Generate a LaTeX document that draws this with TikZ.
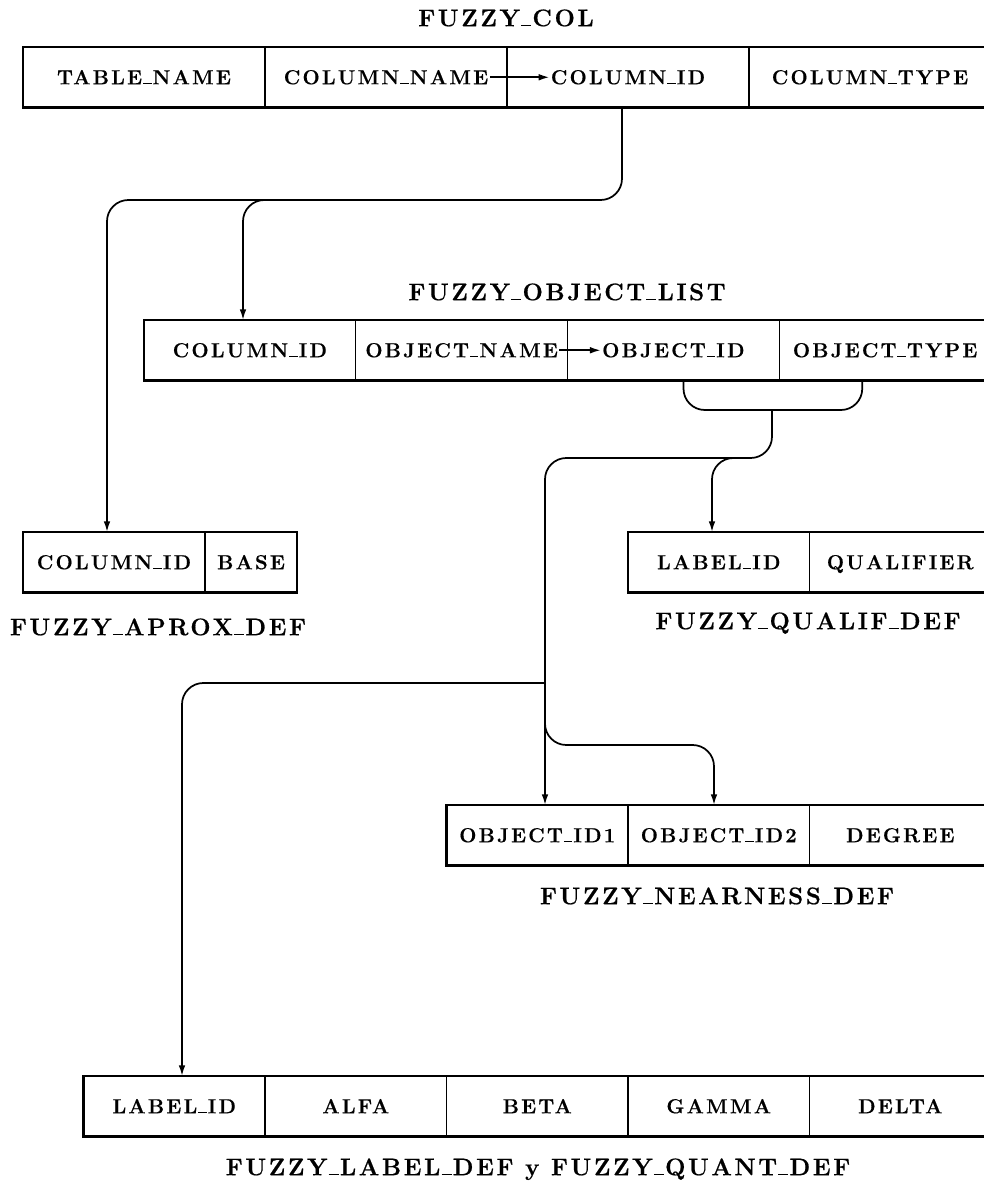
\documentclass[tikz,border=0pt]{standalone}
\usepackage{fontspec}
\usetikzlibrary{calc,arrows.meta}
\newfontfamily\cellfont{lmroman12-bold.otf}[LetterSpace=11,FakeBold=0.6]
\newcommand\us{\kern.05em\vbox{\hrule width.42em height 1.2pt}\kern.05em}
\newcommand\cellat[4]{%
  \node[cellbx,minimum width={#3*0.75pt},anchor=north west] (#1) at (#2) {};
  \node[celltx] (#1t) at (#1.center) {#4};}
\tikzset{
  cellbx/.style={draw,line width=1.1pt,minimum height=45.4pt,inner sep=0pt,outer sep=0pt},
  celltx/.style={font=\cellfont\fontsize{15.2}{17}\selectfont,inner sep=1pt,text height=10.4pt,text depth=0pt},
  ttl/.style={font=\cellfont\fontsize{18}{20}\selectfont,inner sep=1pt,text height=12.3pt,text depth=0pt},
  frame/.style={line width=2pt},
  conn/.style={line width=1.3pt,rounded corners=16pt},
  tip/.style={-{Latex[length=8pt,width=5pt]}}
}
\begin{document}
\begin{tikzpicture}[x=0.75pt,y=-0.75pt]
\useasboundingbox (0,0) rectangle (984,1185);
\clip (0,0) rectangle (984,1185);
% FUZZY_COL
\node[ttl] (tcol) at (506,18) {FUZZY\us COL};
\cellat{fc1}{23,47}{242}{TABLE\us NAME}
\cellat{fc2}{fc1.north east}{242}{COLUMN\us NAME}
\cellat{fc3}{fc2.north east}{242}{COLUMN\us ID}
\cellat{fc4}{fc3.north east}{242}{COLUMN\us TYPE}
\draw[frame] (fc1.north west) rectangle (fc4.south east);
\draw[line width=1.2pt,tip] (fc2t.east) -- (fc3t.west);
% FUZZY_OBJECT_LIST
\node[ttl] (tol) at (567,292) {FUZZY\us OBJECT\us LIST};
\cellat{ol1}{144,320}{211.75}{COLUMN\us ID}
\cellat{ol2}{ol1.north east}{211.75}{OBJECT\us NAME}
\cellat{ol3}{ol2.north east}{211.75}{OBJECT\us ID}
\cellat{ol4}{ol3.north east}{211.75}{OBJECT\us TYPE}
\draw[frame] (ol1.north west) rectangle (ol4.south east);
\draw[line width=1.2pt,tip] (ol2t.east) -- (ol3t.west);
% FUZZY_APROX_DEF
\cellat{ap1}{23,532}{182}{COLUMN\us ID}
\cellat{ap2}{ap1.north east}{92}{BASE}
\draw[frame] (ap1.north west) rectangle (ap2.south east);
\node[ttl] (tap) at (158,627) {FUZZY\us APROX\us DEF};
% FUZZY_QUALIF_DEF
\cellat{qd1}{628,532}{181.5}{LABEL\us ID}
\cellat{qd2}{qd1.north east}{181.5}{QUALIFIER}
\draw[frame] (qd1.north west) rectangle (qd2.south east);
\node[ttl] (tqd) at (808,621) {FUZZY\us QUALIF\us DEF};
% FUZZY_NEARNESS_DEF
\cellat{nd1}{446.5,805}{181.5}{OBJECT\us ID1}
\cellat{nd2}{nd1.north east}{181.5}{OBJECT\us ID2}
\cellat{nd3}{nd2.north east}{181.5}{DEGREE}
\draw[frame] (nd1.north west) rectangle (nd3.south east);
\node[ttl] (tnd) at (717,896) {FUZZY\us NEARNESS\us DEF};
% FUZZY_LABEL_DEF
\cellat{lb1}{83.5,1076}{181.5}{LABEL\us ID}
\cellat{lb2}{lb1.north east}{181.5}{ALFA}
\cellat{lb3}{lb2.north east}{181.5}{BETA}
\cellat{lb4}{lb3.north east}{181.5}{GAMMA}
\cellat{lb5}{lb4.north east}{181.5}{DELTA}
\draw[frame] (lb1.north west) rectangle (lb5.south east);
\node[ttl] (tlb) at (538,1167) {FUZZY\us LABEL\us DEF y FUZZY\us QUANT\us DEF};
% connectors
\coordinate (j1) at (400,200);
\draw[conn,tip] ($(fc3.south west)+(115,0)$) |- (j1) -| ($(ap1.north west)+(84,0)$);
\draw[conn,tip] (j1) -| ($(ol1.north west)+(99,0)$);
\coordinate (bm) at (772,410);
\coordinate (j2) at (650,458);
\draw[conn] ($(ol3.south west)+(116,0)$) |- (bm) -| ($(ol4.south west)+(83,0)$);
\draw[conn,tip] (bm) |- (j2) -| ($(nd1.north west)+(98.5,0)$);
\coordinate (j2b) at (745,458);
\draw[conn,tip] (j2b) -| ($(qd1.north west)+(84,0)$);
\coordinate (j3) at (545,683);
\draw[conn,tip] (j3) -| ($(lb1.north west)+(98.5,0)$);
\coordinate (j4) at (545,700);
\coordinate (j5) at (620,745);
\draw[conn,tip] (j4) |- (j5) -| ($(nd2.north west)+(86,0)$);
\end{tikzpicture}
\end{document}
